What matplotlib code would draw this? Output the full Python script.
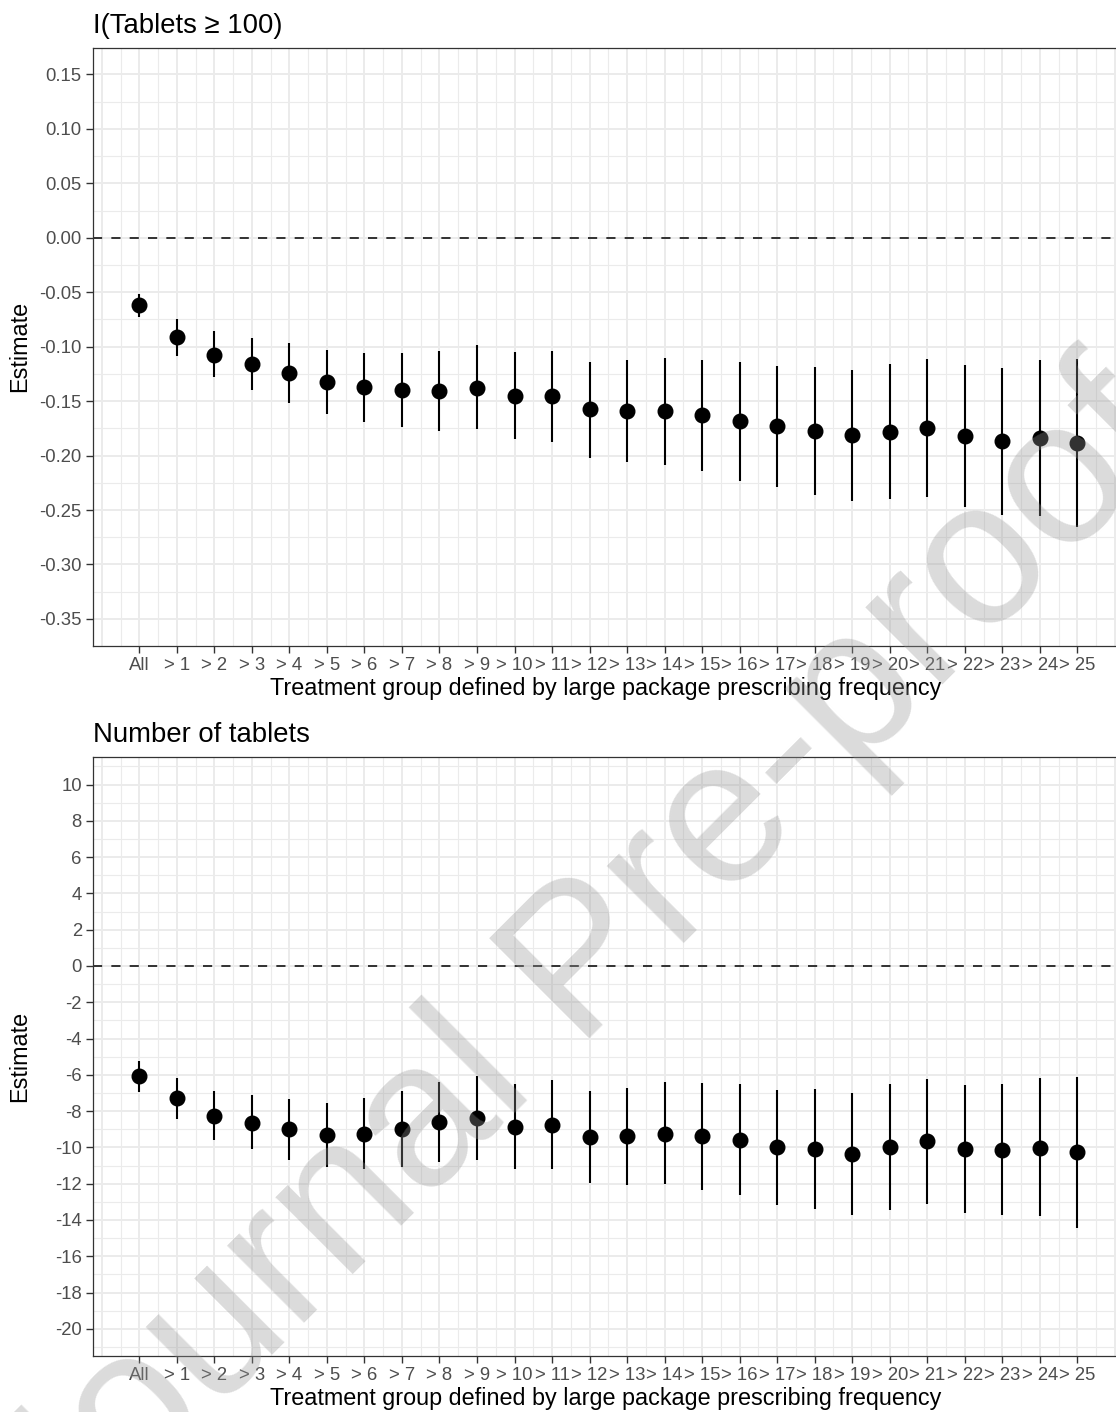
"""
Two-panel coefficient plot: estimates with 95% CI by treatment group threshold
Top: I(Tablets >= 100), bottom: number of tablets
"""
import matplotlib
matplotlib.use("Agg")
import matplotlib.pyplot as plt
from matplotlib.ticker import FixedLocator

plt.rcParams['font.family'] = ['Liberation Sans', 'DejaVu Sans']

# ── data ─────────────────────────────────────────────────────────────────────
groups = ["All"] + [f"> {k}" for k in range(1, 26)]

share_est = [-0.062, -0.091, -0.1075, -0.116, -0.124, -0.1325, -0.137, -0.140,
             -0.1405, -0.1378, -0.145, -0.1456, -0.1576, -0.159, -0.159, -0.163,
             -0.1686, -0.173, -0.1778, -0.1815, -0.178, -0.175, -0.182, -0.187,
             -0.1836, -0.1885]
share_lo = [-0.0728, -0.1085, -0.128, -0.140, -0.1516, -0.162, -0.1687, -0.174,
            -0.1775, -0.176, -0.1845, -0.1876, -0.202, -0.206, -0.2087, -0.214,
            -0.2234, -0.2286, -0.236, -0.2418, -0.240, -0.2384, -0.247, -0.2543,
            -0.2552, -0.2656]
share_hi = [-0.052, -0.0742, -0.086, -0.0916, -0.0965, -0.103, -0.106, -0.1054,
            -0.104, -0.0985, -0.105, -0.104, -0.1138, -0.112, -0.1107, -0.112,
            -0.1144, -0.1175, -0.1187, -0.1217, -0.116, -0.1113, -0.1168, -0.120,
            -0.112, -0.1113]

count_est = [-6.09, -7.29, -8.28, -8.63, -9.01, -9.31, -9.27, -9.00, -8.61,
             -8.39, -8.87, -8.78, -9.44, -9.40, -9.25, -9.40, -9.58, -9.99,
             -10.10, -10.38, -9.97, -9.66, -10.10, -10.14, -10.01, -10.28]
count_lo = [-6.96, -8.43, -9.62, -10.10, -10.69, -11.07, -11.22, -11.07, -10.78,
            -10.69, -11.22, -11.22, -11.99, -12.10, -12.03, -12.34, -12.65, -13.15,
            -13.39, -13.72, -13.44, -13.11, -13.61, -13.72, -13.81, -14.44]
count_hi = [-5.26, -6.15, -6.90, -7.12, -7.32, -7.53, -7.29, -6.88, -6.42,
            -6.07, -6.50, -6.31, -6.90, -6.72, -6.42, -6.46, -6.50, -6.85,
            -6.79, -7.03, -6.50, -6.22, -6.59, -6.53, -6.17, -6.11]

share_ticks = [0.15, 0.10, 0.05, 0.00, -0.05, -0.10, -0.15, -0.20, -0.25, -0.30, -0.35]
count_ticks = list(range(10, -21, -2))

panels = [
    dict(title="I(Tablets \u2265 100)", est=share_est, lo=share_lo, hi=share_hi,
         ticks=share_ticks, fmt="{:.2f}", ylim=(-0.3745, 0.1745), top=47.8, bottom=645.6),
    dict(title="Number of tablets", est=count_est, lo=count_lo, hi=count_hi,
         ticks=count_ticks, fmt="{:d}", ylim=(-21.5, 11.5), top=757.3, bottom=1356.0),
]

# ── layout (pixel based) ─────────────────────────────────────────────────────
W, H = 1116, 1412
LEFT, RIGHT = 92.9, 1118.6
XLIM = (-0.2367, 27.1)

GRID = '#EBEBEB'
BORDER = '#333333'
TICKTXT = '#4D4D4D'

fig = plt.figure(figsize=(W / 100, H / 100), dpi=100)
fig.patch.set_facecolor('white')

xpos = list(range(1, len(groups) + 1))

for p in panels:
    ax = fig.add_axes([LEFT / W, 1 - p['bottom'] / H,
                       (RIGHT - LEFT) / W, (p['bottom'] - p['top']) / H])
    ax.set_facecolor('white')
    ax.set_xlim(*XLIM)
    ax.set_ylim(*p['ylim'])

    # grid: major at breaks, minor halfway
    ax.xaxis.set_major_locator(FixedLocator(xpos))
    ax.xaxis.set_minor_locator(FixedLocator([k + 0.5 for k in range(0, 27)]))
    ax.set_xticklabels(groups)
    ticks = p['ticks']
    step = abs(ticks[0] - ticks[1])
    ax.yaxis.set_major_locator(FixedLocator(ticks))
    minor = [t - step / 2 for t in ticks] + [ticks[0] + step / 2]
    ax.yaxis.set_minor_locator(FixedLocator(minor))
    ax.set_yticklabels([p['fmt'].format(t) for t in ticks])

    ax.grid(True, which='major', color=GRID, linewidth=1.4, zorder=0)
    ax.grid(True, which='minor', color=GRID, linewidth=0.8, zorder=0)
    # positions 0 and 27 are major grid lines in the original
    for xv in (0, 27):
        ax.axvline(xv, color=GRID, linewidth=1.4, zorder=0)
    ax.set_axisbelow(True)

    ax.tick_params(which='major', length=5, width=1.0, color=BORDER, pad=3,
                   labelsize=13.3, labelcolor=TICKTXT)
    ax.tick_params(which='minor', length=0)
    for s in ax.spines.values():
        s.set_color(BORDER)
        s.set_linewidth(0.9)

    # zero reference
    ax.axhline(0, color='black', linewidth=1.1, linestyle=(0, (6, 6)), zorder=2)

    # CIs and point estimates
    ax.vlines(xpos, p['lo'], p['hi'], color='black', linewidth=1.5, zorder=3)
    ax.plot(xpos, p['est'], 'o', color='black', markersize=10.5, zorder=4)

    ax.set_title(p['title'], loc='left', fontsize=19.8, color='black', pad=11)
    ax.set_xlabel("Treatment group defined by large package prescribing frequency",
                  fontsize=16.8, color='black')
    ax.xaxis.label.set_va('center')
    ax.xaxis.set_label_coords(0.5, -(688 - 645.6) / (645.6 - 47.8))
    ax.set_ylabel("Estimate", fontsize=16.8, color='black')
    ax.yaxis.set_label_coords(-(92.9 - 20) / (RIGHT - LEFT), 0.5)
    ax.yaxis.label.set_va('center')

# journal watermark drawn over everything (anchor = baseline centre)
fig.text(622 / W, 1 - 1005 / H, "Journal Pre-proof", rotation=45,
         fontsize=148, color='#979797', alpha=0.34,
         ha='center', va='baseline', rotation_mode='anchor', zorder=10)

fig.savefig("out.png", dpi=100, facecolor='white')
